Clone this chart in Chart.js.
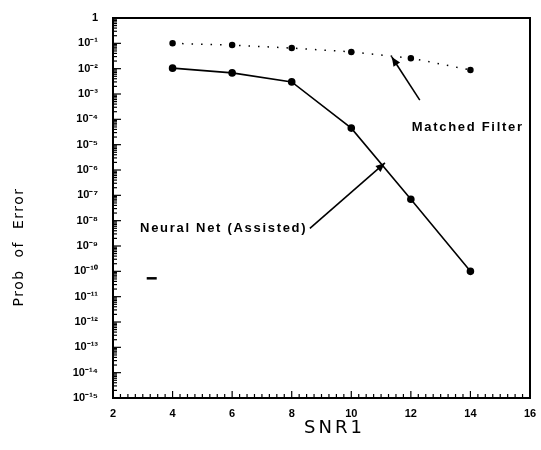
<!DOCTYPE html>
<html>
<head>
<meta charset="utf-8">
<script src="https://cdn.jsdelivr.net/npm/chart.js@4/dist/chart.umd.min.js"></script>
<style>
  html, body { margin: 0; padding: 0; background: #fff; }
  canvas { display: block; }
</style>
</head>
<body>
<canvas id="chart" width="541" height="450"></canvas>
<script>
// values
const snr = [4, 6, 8, 10, 12, 14];
const matchedFilter = [1.0e-1, 8.5e-2, 6.5e-2, 4.6e-2, 2.6e-2, 8.9e-3];
const neuralNet = [1.05e-2, 6.8e-3, 3.0e-3, 4.5e-5, 7.0e-8, 1.0e-10];
const strayMark = [{ x: 3.3, y: 5.3e-11 }];

const xTickValues = [2, 4, 6, 8, 10, 12, 14, 16];
const yTickValues = [1, 1e-1, 1e-2, 1e-3, 1e-4, 1e-5, 1e-6, 1e-7, 1e-8, 1e-9, 1e-10, 1e-11, 1e-12, 1e-13, 1e-14, 1e-15];
const yTickLabels = ['1', '10⁻¹', '10⁻²', '10⁻³', '10⁻⁴', '10⁻⁵', '10⁻⁶', '10⁻⁷', '10⁻⁸', '10⁻⁹', '10⁻¹⁰', '10⁻¹¹', '10⁻¹²', '10⁻¹³', '10⁻¹⁴', '10⁻¹⁵'];

const labelNotes = [
  { text: 'Matched Filter', x: 12.03, y: 4.9e-5, from: [12.3, 5.7e-4], to: [11.36, 2.9e-2] },
  { text: 'Neural Net (Assisted)', x: 2.91, y: 5.0e-9, from: [8.61, 5.0e-9], to: [11.13, 1.9e-6] },
];

const FONT = '"Liberation Sans", Arial, sans-serif';
const WIDE = '"DejaVu Sans", sans-serif';

function toPoints(xs, ys) {
  return xs.map((x, i) => ({ x, y: ys[i] }));
}

const decorPlugin = {
  id: 'decor',
  afterDraw(chart) {
    const { ctx, chartArea: a } = chart;
    const xs = chart.scales.x;
    const ys = chart.scales.y;
    ctx.save();
    ctx.strokeStyle = '#000';
    ctx.fillStyle = '#000';

    // frame
    ctx.lineWidth = 2;
    ctx.strokeRect(a.left, a.top, a.right - a.left, a.bottom - a.top);

    // y ticks, inward
    ctx.lineWidth = 1.2;
    for (let n = 0; n >= -15; n--) {
      const major = ys.getPixelForValue(Math.pow(10, n));
      ctx.beginPath();
      ctx.moveTo(a.left, major);
      ctx.lineTo(a.left + 8, major);
      ctx.stroke();
      if (n === 0) continue;
      for (let k = 2; k <= 9; k++) {
        const py = ys.getPixelForValue(k * Math.pow(10, n));
        ctx.beginPath();
        ctx.moveTo(a.left, py);
        ctx.lineTo(a.left + 4, py);
        ctx.stroke();
      }
    }

    // x ticks, inward
    for (let v = 2; v <= 16.001; v += 0.25) {
      const px = xs.getPixelForValue(v);
      const len = Math.abs(v % 2) < 0.01 ? 7 : 4;
      ctx.beginPath();
      ctx.moveTo(px, a.bottom);
      ctx.lineTo(px, a.bottom - len);
      ctx.stroke();
    }

    // annotations with arrows
    ctx.font = 'bold 13px ' + FONT;
    ctx.letterSpacing = '1.7px';
    ctx.textBaseline = 'middle';
    ctx.textAlign = 'left';
    labelNotes.forEach((n) => {
      ctx.fillText(n.text, xs.getPixelForValue(n.x), ys.getPixelForValue(n.y));
      const x0 = xs.getPixelForValue(n.from[0]);
      const y0 = ys.getPixelForValue(n.from[1]);
      const x1 = xs.getPixelForValue(n.to[0]);
      const y1 = ys.getPixelForValue(n.to[1]);
      ctx.lineWidth = 1.6;
      ctx.beginPath();
      ctx.moveTo(x0, y0);
      ctx.lineTo(x1, y1);
      ctx.stroke();
      const ang = Math.atan2(y1 - y0, x1 - x0);
      ctx.beginPath();
      ctx.moveTo(x1, y1);
      ctx.lineTo(x1 - 10 * Math.cos(ang - 0.4), y1 - 10 * Math.sin(ang - 0.4));
      ctx.lineTo(x1 - 10 * Math.cos(ang + 0.4), y1 - 10 * Math.sin(ang + 0.4));
      ctx.closePath();
      ctx.fill();
    });

    // axis titles
    ctx.textAlign = 'center';
    ctx.font = '18px ' + WIDE;
    ctx.letterSpacing = '3px';
    ctx.fillText('SNR1', (a.left + a.right) / 2 + 13, a.bottom + 30);
    ctx.save();
    ctx.translate(19, (a.top + a.bottom) / 2 + 39);
    ctx.rotate(-Math.PI / 2);
    ctx.font = '14px ' + WIDE;
    ctx.letterSpacing = '1.5px';
    ctx.fillText('Prob  of  Error', 0, 0);
    ctx.restore();

    ctx.restore();
  },
};

new Chart(document.getElementById('chart'), {
  type: 'line',
  data: {
    datasets: [
      {
        label: 'Matched Filter',
        data: toPoints(snr, matchedFilter),
        borderColor: '#000',
        borderWidth: 1.5,
        borderDash: [1.5, 8],
        pointRadius: 2.5,
        pointBackgroundColor: '#000',
        pointBorderColor: '#000',
      },
      {
        label: 'Neural Net (Assisted)',
        data: toPoints(snr, neuralNet),
        borderColor: '#000',
        borderWidth: 1.6,
        pointRadius: 3,
        pointBackgroundColor: '#000',
        pointBorderColor: '#000',
      },
      {
        label: 'mark',
        data: strayMark,
        showLine: false,
        pointStyle: 'line',
        pointRadius: 5,
        borderWidth: 2.5,
        borderColor: '#000',
      },
    ],
  },
  options: {
    responsive: false,
    animation: false,
    layout: { padding: { left: 0, top: 18, right: 11, bottom: 0 } },
    plugins: { legend: { display: false }, tooltip: { enabled: false } },
    scales: {
      x: {
        type: 'linear',
        min: 2,
        max: 16,
        afterFit: (s) => { s.height = 52; },
        afterBuildTicks: (s) => { s.ticks = xTickValues.map((v) => ({ value: v })); },
        grid: { display: false },
        border: { display: false },
        ticks: { color: '#000', padding: 1, font: { family: FONT, size: 11, weight: 'bold' } },
      },
      y: {
        type: 'logarithmic',
        min: 1e-15,
        max: 1,
        afterFit: (s) => { s.width = 113; },
        afterBuildTicks: (s) => { s.ticks = yTickValues.map((v) => ({ value: v })); },
        grid: { display: false },
        border: { display: false },
        ticks: {
          color: '#000',
          padding: 7,
          autoSkip: false,
          font: { family: FONT, size: 11, weight: 'bold' },
          callback: (v) => yTickLabels[yTickValues.findIndex((t) => Math.abs(Math.log10(t) - Math.log10(v)) < 1e-6)],
        },
      },
    },
  },
  plugins: [decorPlugin],
});
</script>
</body>
</html>
